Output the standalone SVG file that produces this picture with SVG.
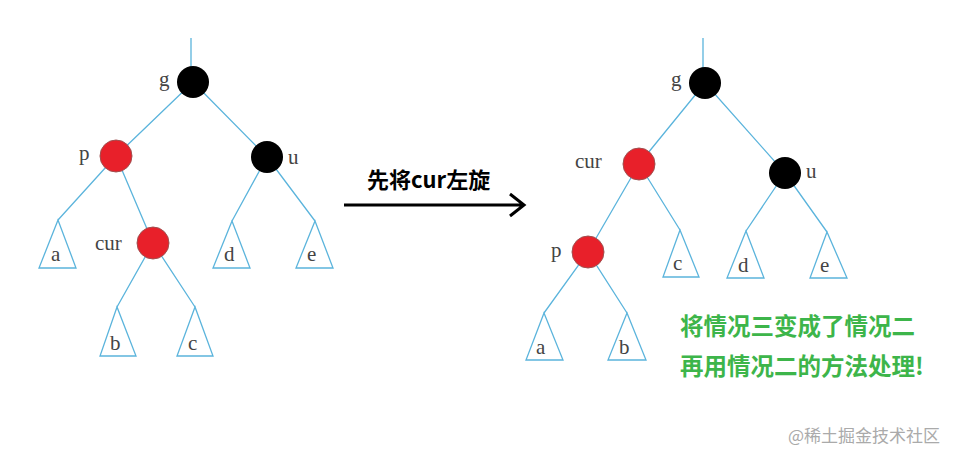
<svg xmlns="http://www.w3.org/2000/svg" width="955" height="451" viewBox="0 0 955 451">
<style>
.e{stroke:#5bb4dc;stroke-width:1.3;fill:none}
.t{stroke:#5bb4dc;stroke-width:1.3;fill:#fff}
.r{fill:#e8202a;stroke:#a05050;stroke-width:1}
.b{fill:#000}
.l{font-family:"Liberation Serif",serif;font-size:21px;fill:#444}
.g{font-family:"Noto Sans CJK SC",sans-serif;font-size:23.5px;font-weight:bold;fill:#3db54a}
</style>
<rect width="955" height="451" fill="#fff"/>
<g id="connectors">
<path class="e" d="M191 38V82M193 82L116 156M193 82L267 157M116 156L58 220M116 156L153 243M153 243L117 307M153 243L195 307M267 157L232 221M267 157L315 221"/>
<path class="e" d="M703 38V83M705 83L639 164M705 83L785 173M639 164L588 252M639 164L680 230M588 252L544 313M588 252L627 313M785 173L746 231M785 173L827 232"/>
<path d="M344 205H524M510 194L524 205L510 216" fill="none" stroke="#000" stroke-width="3"/>
</g>
<g id="left-g"><circle class="b" cx="193" cy="82" r="16"/><text class="l" x="159" y="86">g</text></g>
<g id="left-p"><circle class="r" cx="116" cy="156" r="16"/><text class="l" x="79" y="160">p</text></g>
<g id="left-u"><circle class="b" cx="267" cy="157" r="16"/><text class="l" x="288" y="164">u</text></g>
<g id="left-cur"><circle class="r" cx="153" cy="243" r="16"/><text class="l" x="95" y="250">cur</text></g>
<g id="left-a"><path class="t" d="M58 220L39 268H76Z"/><text class="l" x="51" y="261">a</text></g>
<g id="left-b"><path class="t" d="M117 307L100 356H136Z"/><text class="l" x="110" y="350">b</text></g>
<g id="left-c"><path class="t" d="M195 307L177 356H213Z"/><text class="l" x="188" y="350">c</text></g>
<g id="left-d"><path class="t" d="M232 221L213 268H250Z"/><text class="l" x="224" y="261">d</text></g>
<g id="left-e"><path class="t" d="M315 221L296 268H333Z"/><text class="l" x="307" y="261">e</text></g>
<g id="arrow-label"><text x="367" y="188" font-family="Noto Sans CJK SC,sans-serif" font-size="22" font-weight="bold">先将cur左旋</text></g>
<g id="right-g"><circle class="b" cx="705" cy="83" r="16"/><text class="l" x="671" y="86">g</text></g>
<g id="right-cur"><circle class="r" cx="639" cy="164" r="16"/><text class="l" x="575" y="168">cur</text></g>
<g id="right-u"><circle class="b" cx="785" cy="173" r="16"/><text class="l" x="806" y="178">u</text></g>
<g id="right-p"><circle class="r" cx="588" cy="252" r="16"/><text class="l" x="551" y="257">p</text></g>
<g id="right-c"><path class="t" d="M680 230L663 277H699Z"/><text class="l" x="673" y="270">c</text></g>
<g id="right-d"><path class="t" d="M746 231L727 278H764Z"/><text class="l" x="738" y="272">d</text></g>
<g id="right-e"><path class="t" d="M827 232L810 278H847Z"/><text class="l" x="820" y="272">e</text></g>
<g id="right-a"><path class="t" d="M544 313L526 360H563Z"/><text class="l" x="536" y="354">a</text></g>
<g id="right-b"><path class="t" d="M627 313L608 360H646Z"/><text class="l" x="619" y="354">b</text></g>
<g id="note"><text class="g" x="680" y="335">将情况三变成了情况二</text><text class="g" x="680" y="375">再用情况二的方法处理!</text></g>
<text x="788" y="442" font-family="Noto Sans CJK SC,sans-serif" font-size="17" fill="#aaa">@稀土掘金技术社区</text>
</svg>
